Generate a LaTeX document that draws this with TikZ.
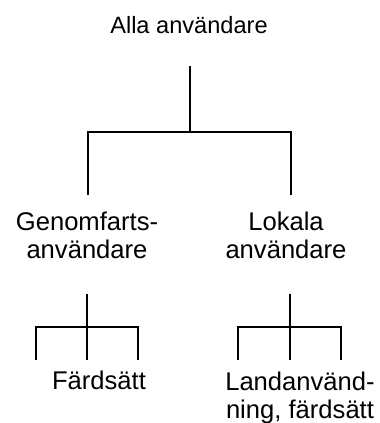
\documentclass[tikz,border=0pt]{standalone}
\usepackage{fontspec}
\setmainfont{Liberation Sans}
\usepackage{tikz}
\usetikzlibrary{positioning, calc}
\tikzset{
  toptext/.style={anchor=base, inner sep=0pt, font=\fontsize{11.8}{14}\selectfont},
  usertext/.style={anchor=base, inner sep=0pt, align=center, font=\fontsize{12.8}{13.85}\selectfont},
  branch/.style={line width=0.75pt, line cap=rect}
}
\begin{document}
\begin{tikzpicture}[x=0.5pt, y=-0.5pt]
\useasboundingbox (0,0) rectangle (380,423);

\node (alla) [toptext] at (189,33) {Alla användare};
\node (genomfarts) [usertext] at (87,258) {Genomfarts-\\användare};
\node (lokala) [usertext] at (286,258) {Lokala\\användare};
\node (fardsatt) [usertext] at (99,389) {Färdsätt};
\node (landanv) [usertext] at (300,418) {Landanvänd-\\ning, färdsätt};

% forgrening under alla
\coordinate (top_start) at (190,67);
\coordinate (top_fork) at (190,132);
\coordinate (genom_end) at (88,194);
\coordinate (lokal_end) at (291,194);
\draw [branch] (top_start) -- (top_fork);
\draw [branch] (genom_end) |- (top_fork) -| (lokal_end);

% forgrening genomfarts
\coordinate (g_start) at (87,295);
\coordinate (g_fork) at (87,327);
\coordinate (g_left) at (36,359);
\coordinate (g_mid) at (87,359);
\coordinate (g_right) at (138,359);
\draw [branch] (g_start) -- (g_mid);
\draw [branch] (g_left) |- (g_fork) -| (g_right);

% forgrening lokala
\coordinate (l_start) at (290,295);
\coordinate (l_fork) at (290,327);
\coordinate (l_left) at (238,359);
\coordinate (l_mid) at (290,359);
\coordinate (l_right) at (341,359);
\draw [branch] (l_start) -- (l_mid);
\draw [branch] (l_left) |- (l_fork) -| (l_right);

\end{tikzpicture}
\end{document}
